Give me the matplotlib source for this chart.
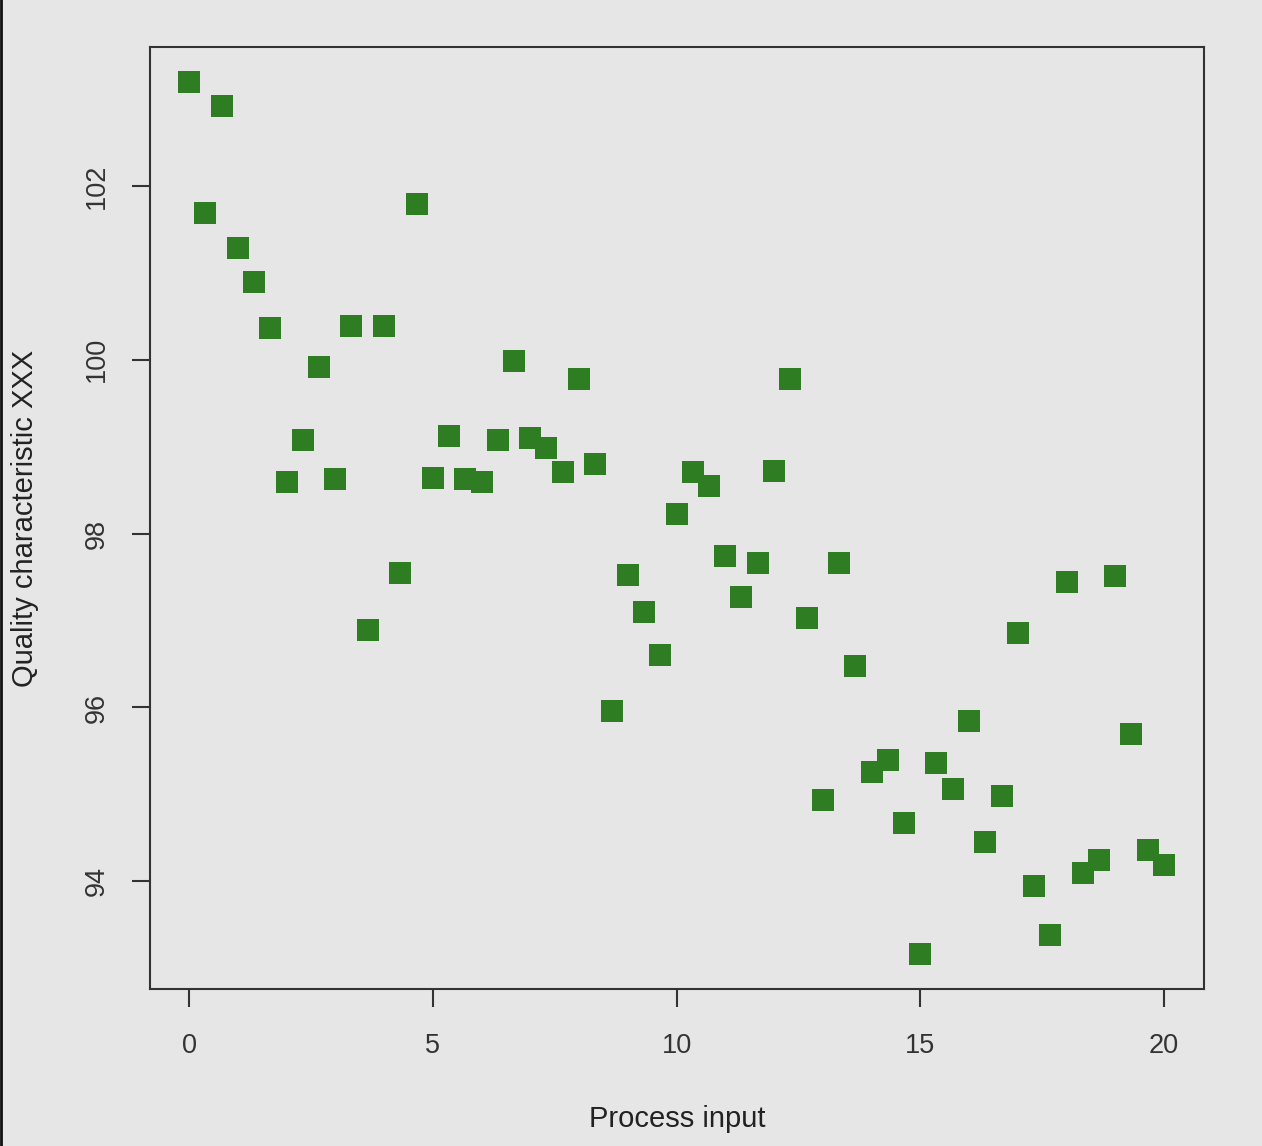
import matplotlib
matplotlib.use("Agg")
import matplotlib.pyplot as plt
from matplotlib.lines import Line2D

# process input (x) and quality characteristic (y)
process_input = [
    0.00, 0.33, 0.67, 1.00, 1.33, 1.67, 2.00, 2.33, 2.67, 3.00,
    3.33, 3.67, 4.00, 4.33, 4.67, 5.00, 5.33, 5.67, 6.00, 6.33,
    6.67, 7.00, 7.33, 7.67, 8.00, 8.33, 8.67, 9.00, 9.33, 9.67,
    10.00, 10.33, 10.67, 11.00, 11.33, 11.67, 12.00, 12.33, 12.67, 13.00,
    13.33, 13.67, 14.00, 14.33, 14.67, 15.00, 15.33, 15.67, 16.00, 16.33,
    16.67, 17.00, 17.33, 17.67, 18.00, 18.33, 18.67, 19.00, 19.33, 19.67,
    20.00,
]
quality = [
    103.20, 101.69, 102.92, 101.29, 100.90, 100.37, 98.60, 99.08, 99.92, 98.63,
    100.39, 96.89, 100.39, 97.55, 101.79, 98.64, 99.12, 98.63, 98.59, 99.08,
    99.99, 99.10, 98.98, 98.71, 99.78, 98.80, 95.96, 97.52, 97.10, 96.60,
    98.23, 98.71, 98.55, 97.74, 97.27, 97.66, 98.72, 99.78, 97.03, 94.93,
    97.66, 96.48, 95.26, 95.39, 94.67, 93.16, 95.36, 95.06, 95.84, 94.45,
    94.98, 96.86, 93.95, 93.38, 97.44, 94.10, 94.24, 97.51, 95.69, 94.36,
    94.19,
]
x_ticks = [0, 5, 10, 15, 20]
y_ticks = [94, 96, 98, 100, 102]

BG = "#e6e6e6"
GREEN = "#2f7d23"
INK = "#333333"

plt.rcParams["font.family"] = ["Liberation Sans", "DejaVu Sans"]

fig = plt.figure(figsize=(12.62, 11.46), dpi=100, facecolor=BG)
W, H = 1262, 1146
ax = fig.add_axes([150 / W, 1 - 989 / H, (1204 - 150) / W, (989 - 47) / H])
ax.set_facecolor(BG)

ax.plot(process_input, quality, linestyle="none", marker="s",
        markersize=16.5, color=GREEN, markeredgewidth=0)

ax.set_xlim(-0.8, 20.82)
ax.set_ylim(92.76, 103.6)
ax.set_xticks(x_ticks)
ax.set_yticks(y_ticks)
ax.set_xticklabels([str(v) for v in x_ticks])
ax.set_yticklabels([str(v) for v in y_ticks], rotation=90, va="center")

for s in ax.spines.values():
    s.set_color(INK)
    s.set_linewidth(1.5)
ax.tick_params(axis="both", direction="out", length=13, width=1.5,
               color=INK, labelcolor=INK, labelsize=19.5)
ax.tick_params(axis="x", pad=19)
ax.tick_params(axis="y", pad=16)

ax.set_xlabel("Process input", fontsize=21, color="#222222", labelpad=33)
ax.set_ylabel("Quality characteristic XXX", fontsize=21, color="#222222", labelpad=32)

# thin dark edge on the left of the image
fig.add_artist(Line2D([0.001, 0.001], [0, 1], transform=fig.transFigure,
                      color="#111111", linewidth=2))

fig.savefig("out.png", dpi=100, facecolor=BG)
